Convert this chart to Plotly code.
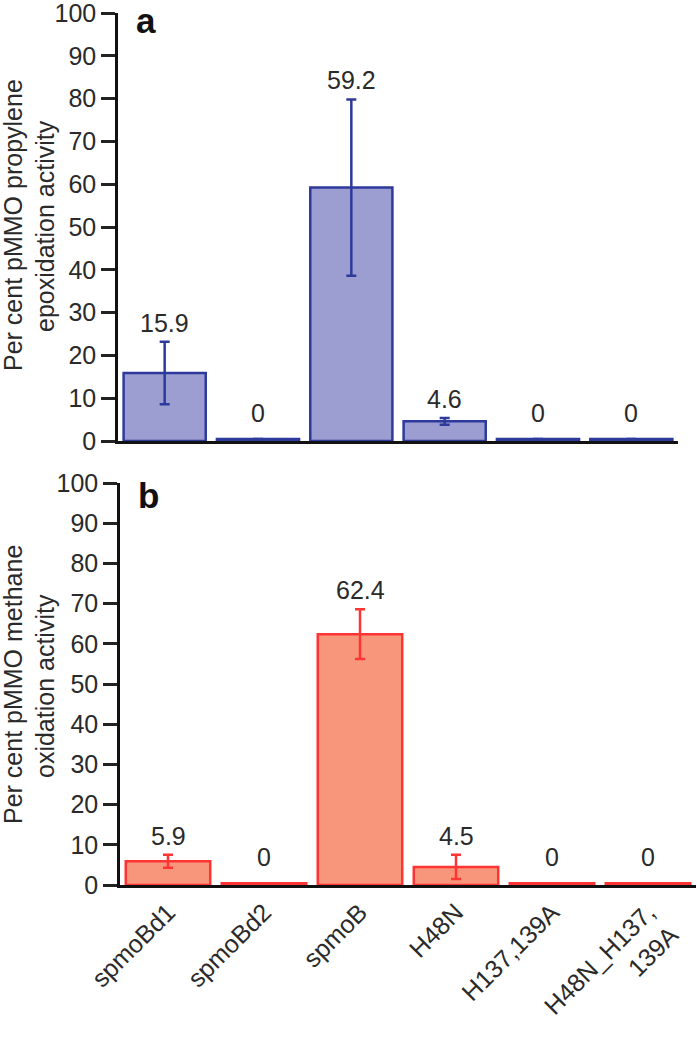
import plotly.graph_objects as go

categories = ["spmoBd1", "spmoBd2", "spmoB", "H48N", "H137,139A", "H48N_H137,<br>139A"]
propylene_vals = [15.9, 0, 59.2, 4.6, 0, 0]
propylene_err = [7.3, 0, 20.6, 0.8, 0, 0]
methane_vals = [5.9, 0, 62.4, 4.5, 0, 0]
methane_err = [1.6, 0, 6.2, 3.0, 0, 0]
y_ticks = list(range(0, 101, 10))

W, H = 697, 1050
FONT = "Liberation Sans, Arial, Helvetica, sans-serif"
TXT = "#2a2a2a"
FS = 25

def px_x(p):
    return p / W

def px_y(p):
    return 1 - p / H

MIN_VIS = 0.45  # minimal drawn height so zero bars remain visible as a flat outline

def shown(vals):
    return [v if v > 0 else MIN_VIS for v in vals]

fig = go.Figure()

fig.add_trace(go.Bar(
    x=categories, y=shown(propylene_vals), xaxis="x", yaxis="y",
    marker=dict(color="#9c9dd0", line=dict(color="#2d3a9c", width=2.5)),
    error_y=dict(type="data", array=propylene_err, color="#2d3a9c", thickness=2.5, width=5),
    hoverinfo="skip", showlegend=False,
))
fig.add_trace(go.Bar(
    x=categories, y=shown(methane_vals), xaxis="x2", yaxis="y2",
    marker=dict(color="#f7967a", line=dict(color="#ff3535", width=2.5)),
    error_y=dict(type="data", array=methane_err, color="#ff3535", thickness=2.5, width=5),
    hoverinfo="skip", showlegend=False,
))

annotations = []
for xref, yref, vals, errs in [("x", "y", propylene_vals, propylene_err),
                               ("x2", "y2", methane_vals, methane_err)]:
    for c, v, e in zip(categories, vals, errs):
        label = ("%.1f" % v) if v > 0 else "0"
        annotations.append(dict(
            x=c, y=v + e, xref=xref, yref=yref, text=label, showarrow=False,
            yanchor="bottom", yshift=3 if v > 0 else 12,
            font=dict(family=FONT, size=FS, color=TXT),
        ))

# axis titles (two lines each)
for line, xc, yc in [("Per cent pMMO propylene", 13, 225), ("epoxidation activity", 45, 226),
                     ("Per cent pMMO methane", 13, 685), ("oxidation activity", 45, 686)]:
    annotations.append(dict(
        x=px_x(xc), y=px_y(yc), xref="paper", yref="paper", text=line, showarrow=False,
        textangle=-90, xanchor="center", yanchor="middle",
        font=dict(family=FONT, size=FS, color=TXT),
    ))

# panel letters
annotations.append(dict(x=px_x(135), y=px_y(0), xref="paper", yref="paper", text="<b>a</b>",
                        showarrow=False, xanchor="left", yanchor="top", borderpad=0,
                        font=dict(family=FONT, size=35, color="#111")))
annotations.append(dict(x=px_x(137), y=px_y(475), xref="paper", yref="paper", text="<b>b</b>",
                        showarrow=False, xanchor="left", yanchor="top", borderpad=0,
                        font=dict(family=FONT, size=35, color="#111")))

yaxis_common = dict(
    range=[0, 100], tickvals=y_ticks, ticks="outside", ticklen=14, tickwidth=2.5,
    tickcolor="#222", showline=True, linecolor="#111", linewidth=2.5, showgrid=False,
    zeroline=False, tickfont=dict(family=FONT, size=FS, color=TXT), automargin=False,
    ticklabeloverflow="allow", fixedrange=True,
)
xaxis_common = dict(
    range=[-0.5, 5.5], showline=True, linecolor="#111", linewidth=2.5, showgrid=False,
    zeroline=False, ticks="", automargin=False, fixedrange=True,
)

fig.update_layout(
    width=W, height=H, margin=dict(l=0, r=0, t=0, b=0),
    paper_bgcolor="white", plot_bgcolor="white",
    bargap=0.12,
    xaxis=dict(xaxis_common, domain=[px_x(118), px_x(678)], anchor="y", showticklabels=False),
    yaxis=dict(yaxis_common, domain=[px_y(441), px_y(13)], anchor="x"),
    xaxis2=dict(xaxis_common, domain=[px_x(120), px_x(696)], anchor="y2", showticklabels=True,
                tickangle=-45, tickfont=dict(family=FONT, size=FS, color=TXT),
                ticklabeloverflow="allow"),
    yaxis2=dict(yaxis_common, domain=[px_y(885), px_y(483)], anchor="x2"),
    annotations=annotations,
)

fig.write_html("out.html", config={"displayModeBar": False},
               post_script="document.body.style.margin='0';")
